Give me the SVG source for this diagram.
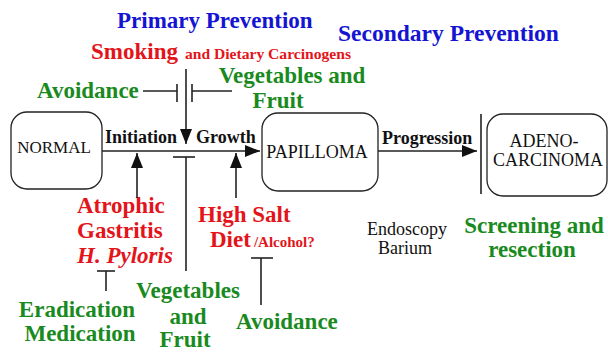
<svg xmlns="http://www.w3.org/2000/svg" width="608" height="354" viewBox="0 0 608 354">
<defs>
<style>
text{font-family:"Liberation Serif",Tinos,"Times New Roman",Times,"DejaVu Serif",serif;}
.big{font-size:23px;font-weight:bold;}
.sm{font-size:15px;font-weight:bold;}
.lbl{font-size:18px;font-weight:bold;fill:#111;}
.node{font-size:18px;fill:#111;}
.blue{fill:#1414d2;}
.red{fill:#e3141a;}
.green{fill:#198a1e;}
.box{fill:#fff;stroke:#222;stroke-width:1.3;}
.ln{stroke:#222;stroke-width:1.6;fill:none;}
</style>
<marker id="ah" markerUnits="userSpaceOnUse" markerWidth="16" markerHeight="12" refX="15" refY="6" orient="auto">
<path d="M0,0 L15,6 L0,12 Z" fill="#111"/>
</marker>
</defs>
<rect width="608" height="354" fill="#fff"/>

<g id="headers">
<text class="big blue" x="117" y="28">Primary Prevention</text>
<text class="big blue" x="338" y="41" style="font-size:23.5px">Secondary Prevention</text>
</g>

<g id="smoking">
<text x="91" y="59"><tspan class="big red">Smoking</tspan><tspan class="sm red" dx="7" style="font-size:15.6px">and Dietary Carcinogens</tspan></text>
</g>

<g id="avoidance1"><text class="big green" x="37" y="98">Avoidance</text></g>
<g id="vegfruit1">
<text class="big green" x="292" y="83" text-anchor="middle">Vegetables and</text>
<text class="big green" x="278" y="108" text-anchor="middle">Fruit</text>
</g>

<g id="normal">
<rect class="box" x="11" y="112" width="91" height="77" rx="16"/>
<text class="node" x="54" y="153" text-anchor="middle" style="font-size:17px">NORMAL</text>
</g>
<g id="papilloma">
<rect class="box" x="262" y="113" width="116" height="78" rx="16"/>
<text class="node" x="317" y="158" text-anchor="middle">PAPILLOMA</text>
</g>
<g id="adenocarcinoma">
<rect class="box" x="487" y="114" width="120" height="82" rx="16"/>
<text class="node" x="544" y="147" text-anchor="middle">ADENO-</text>
<text class="node" x="548" y="166" text-anchor="middle">CARCINOMA</text>
</g>

<g id="atrophic">
<text class="big red" x="77" y="213">Atrophic</text>
<text class="big red" x="77" y="238">Gastritis</text>
<text class="big red" x="77" y="263" font-style="italic">H. Pyloris</text>
</g>
<g id="eradication">
<text class="big green" x="77" y="317" text-anchor="middle">Eradication</text>
<text class="big green" x="80" y="341" text-anchor="middle">Medication</text>
</g>
<g id="vegfruit2">
<text class="big green" x="188" y="298" text-anchor="middle">Vegetables</text>
<text class="big green" x="188" y="324" text-anchor="middle">and</text>
<text class="big green" x="185" y="347" text-anchor="middle">Fruit</text>
</g>
<g id="highsalt">
<text class="big red" x="198" y="222">High Salt</text>
<text x="210" y="247"><tspan class="big red">Diet</tspan><tspan class="sm red" dx="3">/Alcohol?</tspan></text>
</g>
<g id="avoidance2"><text class="big green" x="236" y="329">Avoidance</text></g>
<g id="endoscopy">
<text class="node" x="407" y="235" text-anchor="middle">Endoscopy</text>
<text class="node" x="405" y="254" text-anchor="middle">Barium</text>
</g>
<g id="screening">
<text class="big green" x="534" y="233" text-anchor="middle">Screening and</text>
<text class="big green" x="532" y="257" text-anchor="middle">resection</text>
</g>

<g id="connectors">
<line class="ln" x1="102" y1="151" x2="260" y2="151" marker-end="url(#ah)"/>
<text class="lbl" x="105" y="143">Initiation</text>
<text class="lbl" x="196" y="143">Growth</text>
<line class="ln" x1="378" y1="151" x2="477" y2="151" marker-end="url(#ah)"/>
<text class="lbl" x="382" y="144">Progression</text>
<line class="ln" x1="481" y1="114" x2="481" y2="194"/>
<line class="ln" x1="186" y1="69" x2="186" y2="144" marker-end="url(#ah)"/>
<line class="ln" x1="143" y1="91" x2="177" y2="91"/>
<line class="ln" x1="177" y1="84" x2="177" y2="102"/>
<line class="ln" x1="192" y1="84" x2="192" y2="102"/>
<line class="ln" x1="192" y1="91" x2="232" y2="91"/>
<line class="ln" x1="137" y1="198" x2="137" y2="153" marker-end="url(#ah)"/>
<line class="ln" x1="236" y1="198" x2="236" y2="153" marker-end="url(#ah)"/>
<line class="ln" x1="173" y1="157" x2="195" y2="157"/>
<line class="ln" x1="186" y1="157" x2="186" y2="271"/>
<line class="ln" x1="97" y1="271" x2="115" y2="271"/>
<line class="ln" x1="106" y1="271" x2="106" y2="291"/>
<line class="ln" x1="251" y1="258" x2="273" y2="258"/>
<line class="ln" x1="261" y1="258" x2="261" y2="305"/>
</g>
</svg>
